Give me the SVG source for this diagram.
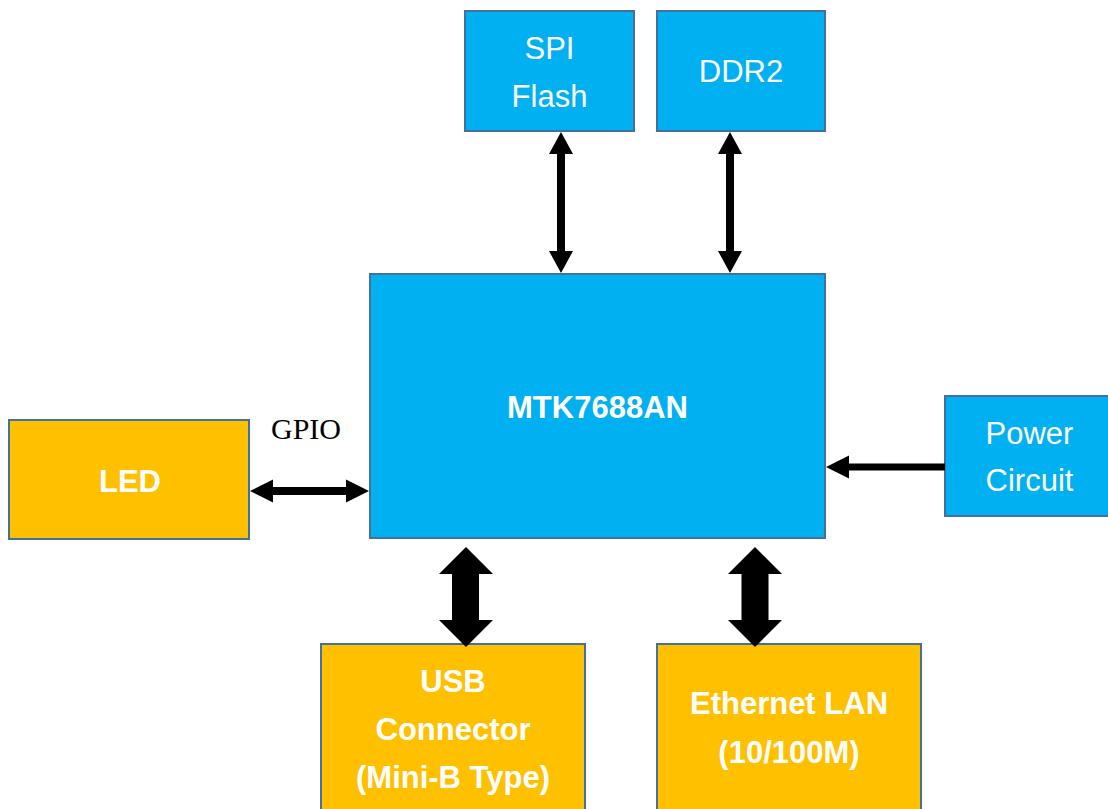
<svg xmlns="http://www.w3.org/2000/svg" width="1108" height="809" viewBox="0 0 1108 809">
<style>
.b{fill:#00B0F0;stroke:#41719C;stroke-width:2}
.o{fill:#FFC000;stroke:#41719C;stroke-width:2}
.t{font-family:"Liberation Sans",Arial,sans-serif;font-size:31px;fill:#FFFFFF;text-anchor:middle}
.tb{font-family:"Liberation Sans",Arial,sans-serif;font-size:31px;font-weight:bold;fill:#FFFFFF;text-anchor:middle}
.a{fill:#000000}
</style>
<rect width="1108" height="809" fill="#FFFFFF"/>
<g id="spi-flash">
<rect class="b" x="465" y="11" width="169" height="120"/>
<text class="t" x="549.5" y="59">SPI</text>
<text class="t" x="549.5" y="107">Flash</text>
</g>
<g id="ddr2">
<rect class="b" x="657" y="11" width="168" height="120"/>
<text class="t" x="741" y="82">DDR2</text>
</g>
<g id="mtk7688an">
<rect class="b" x="370" y="274" width="455" height="264"/>
<text class="tb" x="597.5" y="418">MTK7688AN</text>
</g>
<g id="led">
<rect class="o" x="9" y="420" width="240" height="119"/>
<text class="tb" x="130" y="492">LED</text>
</g>
<g id="power-circuit">
<rect class="b" x="945" y="396" width="170" height="120"/>
<text class="t" x="1029.5" y="444">Power</text>
<text class="t" x="1029.5" y="491">Circuit</text>
</g>
<g id="usb-connector">
<rect class="o" x="321" y="644" width="264" height="180"/>
<text class="tb" x="453" y="692">USB</text>
<text class="tb" x="453" y="740">Connector</text>
<text class="tb" x="453" y="788">(Mini-B Type)</text>
</g>
<g id="ethernet-lan">
<rect class="o" x="657" y="644" width="264" height="180"/>
<text class="tb" x="789" y="714">Ethernet LAN</text>
<text class="tb" x="789" y="763">(10/100M)</text>
</g>
<g id="connectors">
<polygon class="a" points="561,132 573,154 565,154 565,251 573,251 561,273 549,251 557,251 557,154 549,154"/>
<polygon class="a" points="730,132 742,154 734,154 734,251 742,251 730,273 718,251 726,251 726,154 718,154"/>
<polygon class="a" points="250,491 273,479.5 273,487 346,487 346,479.5 369,491 346,502.5 346,495 273,495 273,502.5"/>
<polygon class="a" points="826,467 849,455.5 849,463.5 945,463.5 945,470.5 849,470.5 849,478.5"/>
<polygon class="a" points="466,547 493,574 479,574 479,620 493,620 466,647 439,620 452,620 452,574 439,574"/>
<polygon class="a" points="755,547 782,574 768.5,574 768.5,620 782,620 755,647 728,620 741.5,620 741.5,574 728,574"/>
<text x="306" y="439" font-family="'Liberation Serif','Times New Roman',serif" font-size="30" fill="#000000" text-anchor="middle">GPIO</text>
</g>
</svg>
